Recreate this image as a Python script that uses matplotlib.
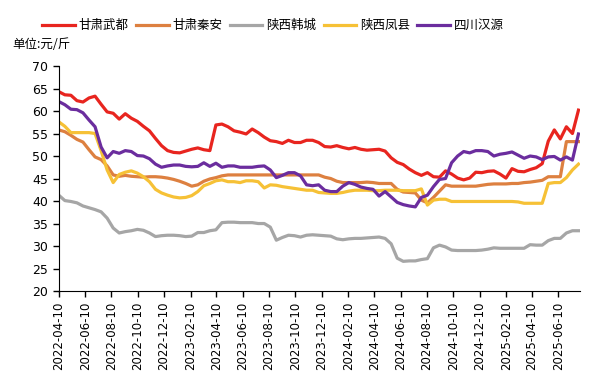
import numpy as np
import pandas as pd
import matplotlib
matplotlib.use('Agg')
import matplotlib.pyplot as plt
import matplotlib.dates as mdates

plt.rcParams['font.family'] = ['Noto Sans CJK SC', 'DejaVu Sans']

# biweekly price samples (元/斤), starting 2022-04-10
dates = pd.date_range('2022-04-10', periods=87, freq='14D')

wudu = [64.3, 63.6, 63.5, 62.3, 62.0, 62.9, 63.3, 61.5, 59.8, 59.5, 58.2, 59.4, 58.4, 57.7, 56.6,
        55.6, 53.9, 52.3, 51.2, 50.8, 50.7, 51.1, 51.5, 51.8, 51.4, 51.2, 56.9, 57.1, 56.5, 55.6,
        55.3, 54.9, 56.0, 55.2, 54.2, 53.4, 53.2, 52.8, 53.5, 53.0, 53.0, 53.5, 53.5, 53.0,
        52.1, 52.0, 52.3, 51.9, 51.6, 51.9, 51.5, 51.3, 51.4, 51.5, 51.1, 49.6, 48.6, 48.1, 47.1,
        46.3, 45.7, 46.3, 45.4, 45.3, 46.7, 46.0, 45.1, 44.7, 45.1, 46.4, 46.3, 46.6, 46.7,
        46.0, 45.1, 47.2, 46.6, 46.5, 47.0, 47.4, 48.3, 53.3, 55.8, 53.8, 56.5, 55.0, 60.2]

qinan = [55.8, 55.4, 54.6, 53.7, 53.1, 51.4, 49.8, 49.2, 47.8, 45.8, 45.5, 45.7, 45.5, 45.4, 45.3,
         45.4, 45.4, 45.3, 45.1, 44.8, 44.4, 43.9, 43.3, 43.6, 44.4, 44.9, 45.2, 45.6, 45.8, 45.8,
         45.8, 45.8, 45.8, 45.8, 45.8, 45.8, 45.8, 45.8, 45.8, 45.8, 45.8, 45.8, 45.8, 45.8,
         45.3, 45.0, 44.4, 44.1, 44.1, 44.1, 44.1, 44.2, 44.1, 43.9, 43.9, 43.9, 42.6, 42.0, 41.9,
         41.8, 40.2, 39.6, 40.8, 42.2, 43.6, 43.3, 43.3, 43.3, 43.3, 43.3, 43.5, 43.7, 43.8,
         43.8, 43.8, 43.9, 43.9, 44.1, 44.2, 44.4, 44.6, 45.4, 45.4, 45.4, 53.2, 53.2, 53.2]

hancheng = [41.3, 40.1, 39.9, 39.6, 38.9, 38.5, 38.1, 37.6, 36.2, 34.0, 32.9, 33.2, 33.4, 33.7, 33.5,
            32.9, 32.1, 32.3, 32.4, 32.4, 32.3, 32.1, 32.2, 33.0, 33.0, 33.4, 33.6, 35.2, 35.3, 35.3,
            35.2, 35.2, 35.2, 35.0, 35.0, 34.2, 31.3, 31.9, 32.4, 32.3, 32.0, 32.4, 32.5, 32.4,
            32.3, 32.2, 31.6, 31.4, 31.6, 31.7, 31.7, 31.8, 31.9, 32.0, 31.7, 30.5, 27.3, 26.6, 26.7,
            26.7, 27.0, 27.2, 29.6, 30.2, 29.8, 29.1, 29.0, 29.0, 29.0, 29.0, 29.1, 29.3, 29.6,
            29.5, 29.5, 29.5, 29.5, 29.5, 30.3, 30.2, 30.2, 31.2, 31.7, 31.7, 32.9, 33.4, 33.4]

fengxian = [57.6, 56.6, 55.2, 55.2, 55.2, 55.2, 55.0, 51.2, 46.9, 44.1, 45.9, 46.4, 46.7, 46.2, 45.4,
            44.3, 42.6, 41.8, 41.3, 40.9, 40.7, 40.8, 41.2, 42.1, 43.4, 43.9, 44.5, 44.7, 44.3, 44.3,
            44.1, 44.5, 44.5, 44.3, 42.9, 43.6, 43.5, 43.2, 43.0, 42.8, 42.6, 42.4, 42.4, 41.9,
            41.8, 41.7, 41.7, 41.9, 42.2, 42.4, 42.4, 42.4, 42.3, 42.3, 42.4, 42.4, 42.4, 42.3, 42.3,
            42.3, 42.7, 39.1, 40.2, 40.4, 40.4, 39.9, 39.9, 39.9, 39.9, 39.9, 39.9, 39.9, 39.9,
            39.9, 39.9, 39.9, 39.8, 39.5, 39.5, 39.5, 39.5, 43.9, 44.1, 44.1, 45.2, 46.9, 48.2]

hanyuan = [62.1, 61.4, 60.4, 60.3, 59.6, 58.0, 56.5, 52.0, 49.6, 51.0, 50.6, 51.2, 51.0, 50.1, 50.0,
           49.4, 48.2, 47.5, 47.8, 48.0, 48.0, 47.7, 47.6, 47.7, 48.5, 47.7, 48.4, 47.5, 47.8, 47.8,
           47.5, 47.5, 47.5, 47.7, 47.8, 46.9, 45.2, 45.7, 46.3, 46.3, 45.6, 43.6, 43.4, 43.6,
           42.4, 42.1, 42.1, 43.3, 44.1, 43.7, 43.1, 42.8, 42.6, 41.1, 42.1, 40.9, 39.7, 39.2, 38.9,
           38.7, 40.8, 41.3, 43.2, 44.8, 45.0, 48.5, 50.0, 51.0, 50.7, 51.2, 51.2, 51.0, 50.0,
           50.4, 50.6, 50.9, 50.2, 49.5, 50.0, 49.8, 49.2, 49.8, 49.9, 49.1, 49.8, 49.1, 54.9]

names = ['甘肃武都', '甘肃秦安', '陕西韩城', '陕西凤县', '四川汉源']
colors = ['#E8251F', '#DD8040', '#A6A6A6', '#F6C136', '#6B2D9E']
series = [wudu, qinan, hancheng, fengxian, hanyuan]

fig = plt.figure(figsize=(6, 3.86), dpi=100)
ax = fig.add_axes([0.098, 0.246, 0.869, 0.583])

for vals, name, c in zip(series, names, colors):
    ax.plot(dates, vals, color=c, lw=2.3, label=name)

ax.set_ylim(20, 70)
ax.set_yticks(range(20, 71, 5))
ax.set_xlim(pd.Timestamp('2022-04-10'), pd.Timestamp('2025-07-31'))
ticks = pd.date_range('2022-04-01', '2025-06-01', freq='2MS') + pd.Timedelta(days=9)
ax.set_xticks(ticks)
ax.xaxis.set_major_formatter(mdates.DateFormatter('%Y-%m-%d'))
ax.tick_params(axis='x', labelrotation=90, labelsize=8.5, length=4, width=1)
ax.tick_params(axis='y', labelsize=9, length=4, width=1)
for lab in ax.get_xticklabels() + ax.get_yticklabels():
    lab.set_family('DejaVu Sans')
ax.spines['top'].set_visible(False)
ax.spines['right'].set_visible(False)

fig.legend(loc='upper center', bbox_to_anchor=(0.455, 0.98), ncol=5, frameon=False,
           fontsize=9, handlelength=2.6, handletextpad=0.3, columnspacing=0.6)
fig.text(0.02, 0.886, '单位:元/斤', fontsize=9, va='center')

fig.savefig('out.png', dpi=100)
